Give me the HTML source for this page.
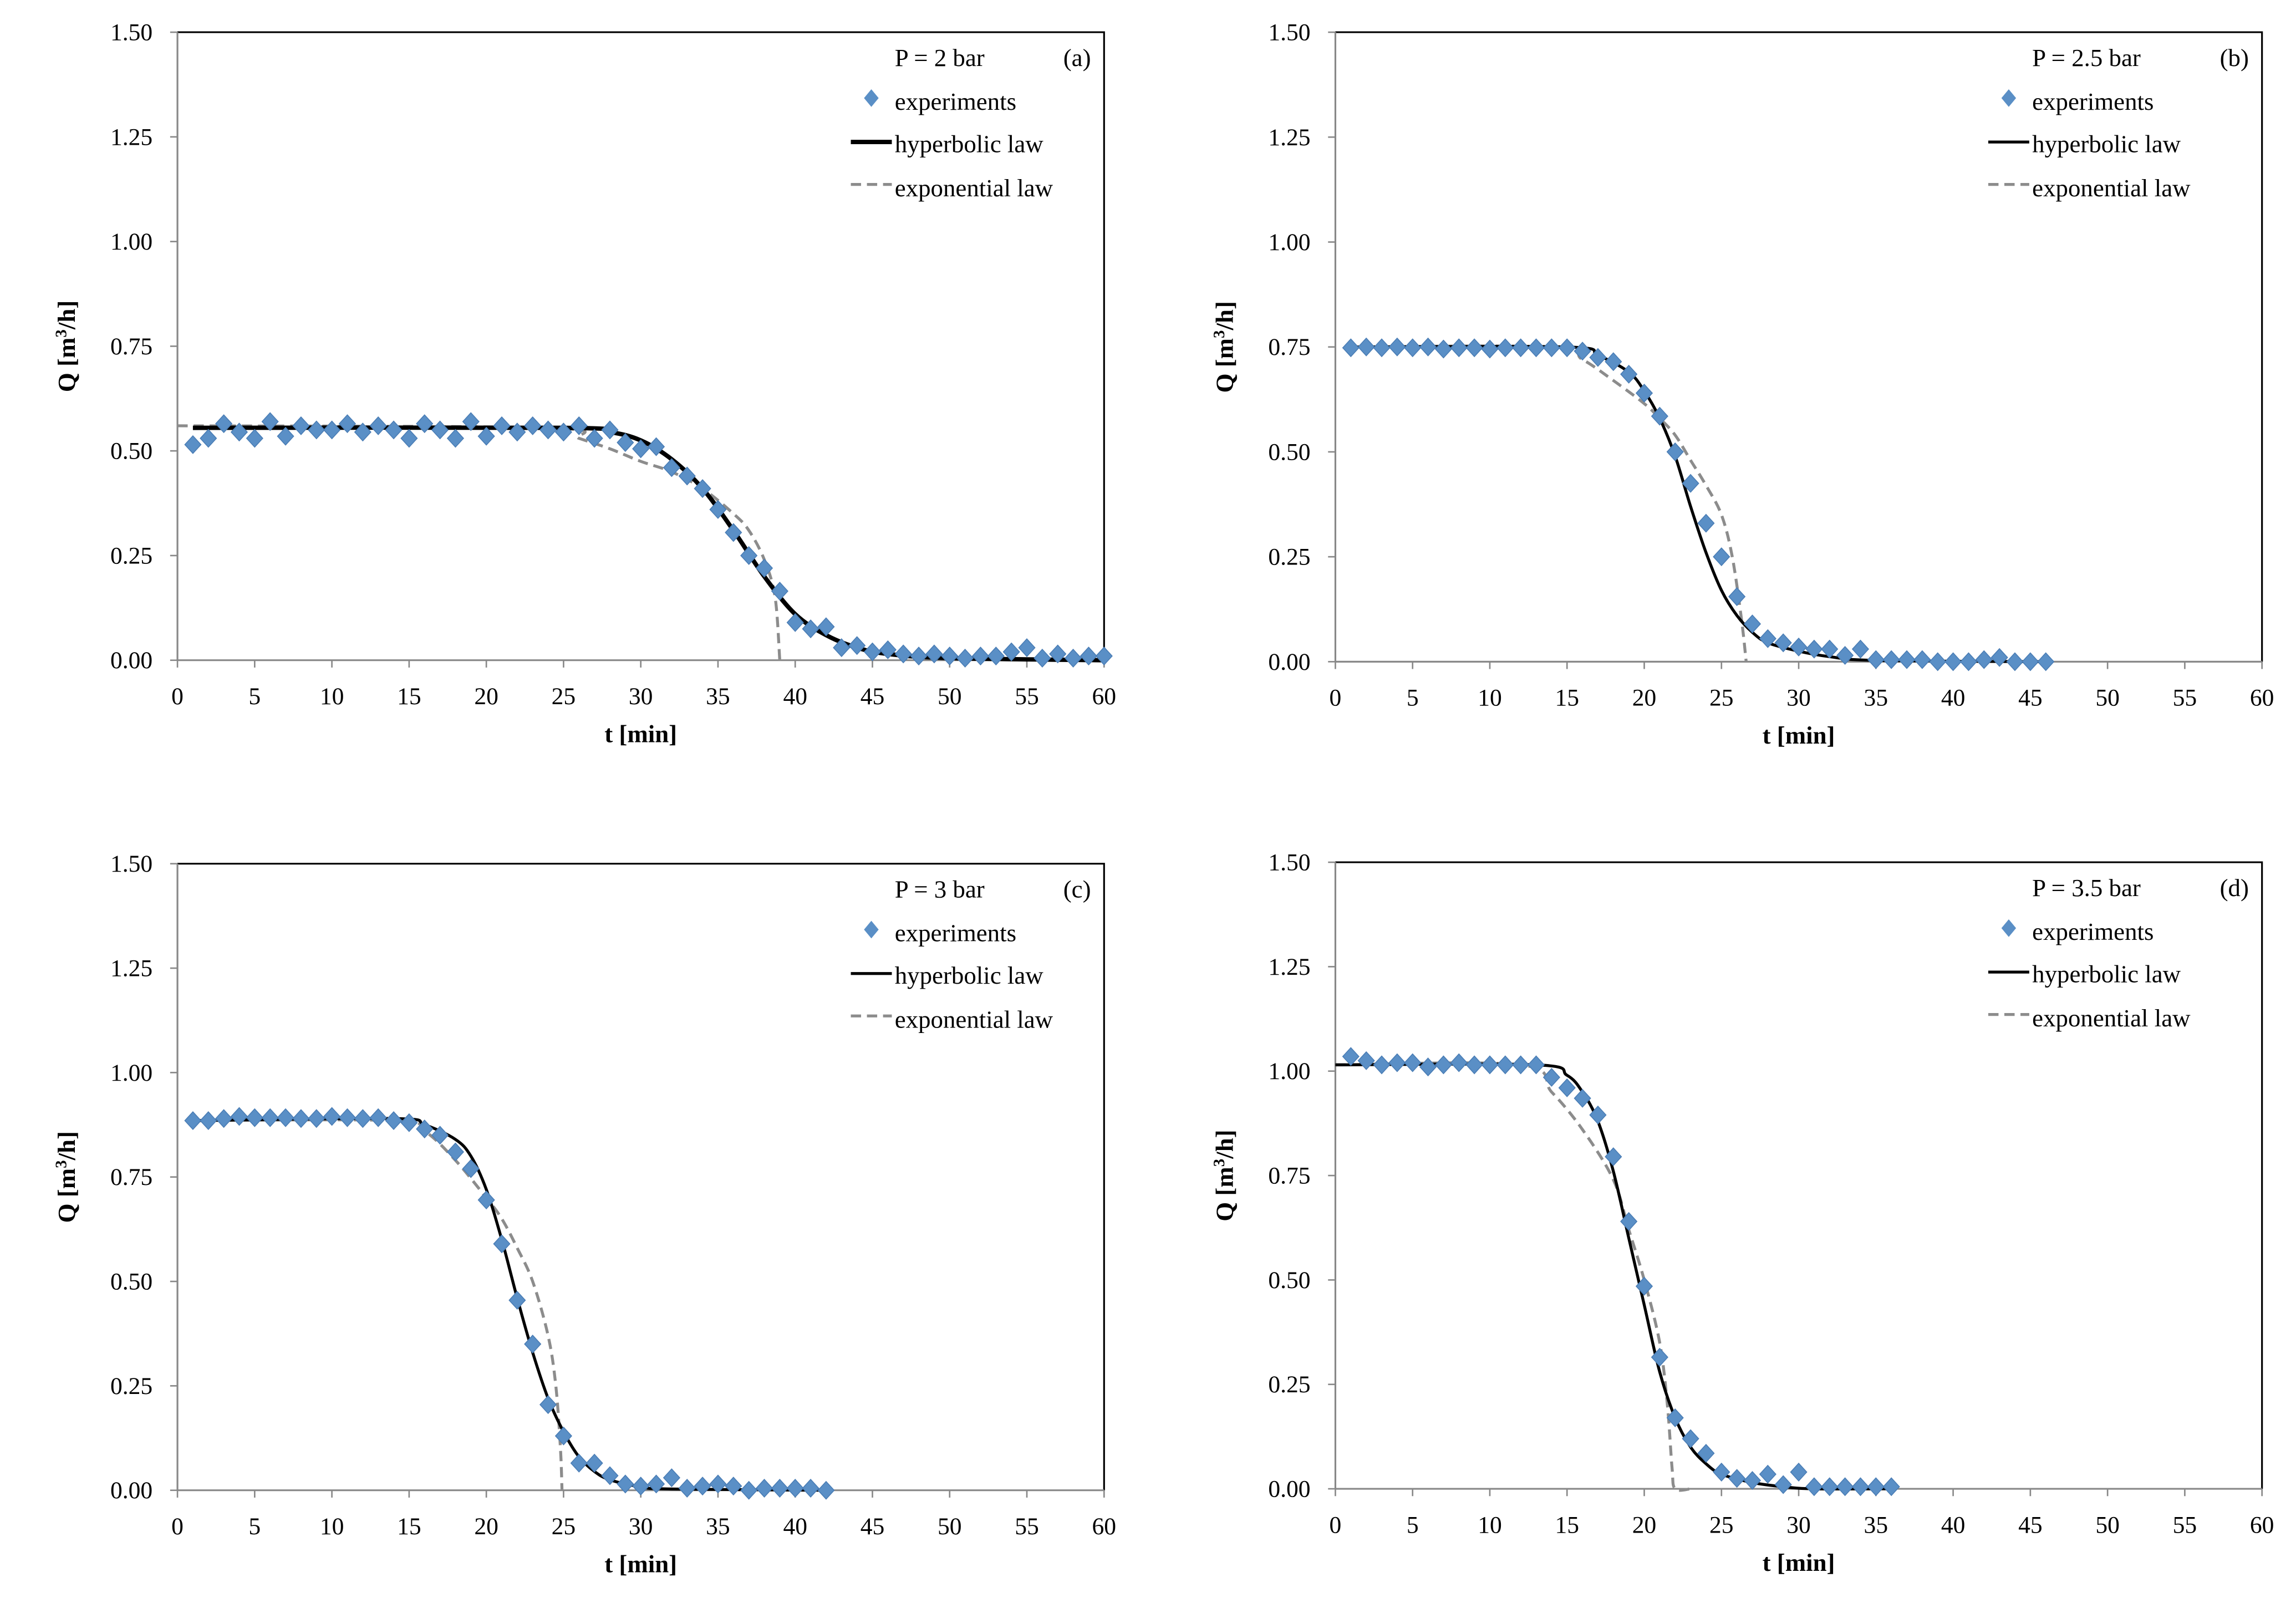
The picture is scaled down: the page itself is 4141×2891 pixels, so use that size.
<!DOCTYPE html>
<html><head><meta charset="utf-8"><style>
html,body{margin:0;padding:0;background:#fff;}
svg{display:block;}
text{font-family:"Liberation Serif",serif;fill:#000;}
</style></head><body>
<svg id="chart" width="4141" height="2891" viewBox="0 0 1568 1095" xmlns="http://www.w3.org/2000/svg"></svg>
<script>
// ---- data ----
const expA_t=[1,2,3,4,5,6,7,8,9,10,11,12,13,14,15,16,17,18,19,20,21,22,23,24,25,26,27,28,29,30,31,32,33,34,35,36,37,38,39,40,41,42,43,44,45,46,47,48,49,50,51,52,53,54,55,56,57,58,59,60];
const expA_q=[0.515,0.53,0.565,0.545,0.53,0.57,0.535,0.56,0.55,0.55,0.565,0.545,0.56,0.55,0.53,0.565,0.55,0.53,0.57,0.535,0.56,0.545,0.56,0.55,0.545,0.56,0.53,0.55,0.52,0.505,0.51,0.46,0.44,0.41,0.36,0.305,0.25,0.22,0.165,0.09,0.075,0.08,0.03,0.035,0.02,0.025,0.015,0.01,0.015,0.01,0.005,0.01,0.01,0.02,0.03,0.005,0.015,0.005,0.01,0.01];
const hypA_t=[1,25,28,30,32,34,36,38,40,42,44,46,50,60];
const hypA_q=[0.555,0.555,0.545,0.525,0.48,0.41,0.31,0.2,0.11,0.06,0.03,0.015,0.005,0];
const expoA_t=[0,24,26,28,30,32,34,36,37,38,38.7,39];
const expoA_q=[0.56,0.555,0.53,0.505,0.475,0.45,0.41,0.35,0.31,0.24,0.15,0];

const expB_t=[1,2,3,4,5,6,7,8,9,10,11,12,13,14,15,16,17,18,19,20,21,22,23,24,25,26,27,28,29,30,31,32,33,34,35,36,37,38,39,40,41,42,43,44,45,46];
const expB_q=[0.748,0.75,0.748,0.75,0.748,0.75,0.745,0.748,0.748,0.745,0.748,0.748,0.748,0.748,0.748,0.74,0.725,0.715,0.685,0.64,0.585,0.5,0.425,0.33,0.25,0.155,0.09,0.055,0.045,0.035,0.03,0.03,0.015,0.03,0.005,0.005,0.005,0.005,0,0,0,0.005,0.01,0,0,0];
const hypB_t=[1,15,17,19,20,21,22,23,24,25,26,27,28,30,32,35,46];
const hypB_q=[0.75,0.75,0.73,0.69,0.645,0.58,0.49,0.37,0.26,0.17,0.11,0.07,0.045,0.025,0.012,0.003,0];
const expoB_t=[1,14,16,18,20,21,22,23,24,25,25.7,26.3,26.6];
const expoB_q=[0.75,0.75,0.72,0.67,0.615,0.58,0.54,0.48,0.42,0.35,0.25,0.1,0];

const expC_t=[1,2,3,4,5,6,7,8,9,10,11,12,13,14,15,16,17,18,19,20,21,22,23,24,25,26,27,28,29,30,31,32,33,34,35,36,37,38,39,40,41,42];
const expC_q=[0.885,0.885,0.89,0.895,0.892,0.892,0.892,0.89,0.89,0.895,0.892,0.89,0.892,0.885,0.88,0.865,0.85,0.81,0.77,0.695,0.59,0.455,0.35,0.205,0.13,0.065,0.065,0.035,0.015,0.01,0.015,0.03,0.005,0.01,0.015,0.01,0,0.005,0.005,0.005,0.005,0];
const hypC_t=[1,14,16,18,19,20,21,22,23,24,25,26,27,28,30,32,42];
const hypC_q=[0.885,0.89,0.875,0.84,0.8,0.72,0.6,0.46,0.33,0.22,0.14,0.08,0.045,0.025,0.008,0.003,0];
const expoC_t=[1,14,16,18,20,21,22,23,24,24.5,24.8,24.9];
const expoC_q=[0.885,0.885,0.86,0.79,0.7,0.65,0.58,0.5,0.37,0.25,0.1,0];

const expD_t=[1,2,3,4,5,6,7,8,9,10,11,12,13,14,15,16,17,18,19,20,21,22,23,24,25,26,27,28,29,30,31,32,33,34,35,36];
const expD_q=[1.035,1.025,1.015,1.02,1.02,1.01,1.015,1.02,1.015,1.015,1.015,1.015,1.015,0.985,0.96,0.935,0.895,0.795,0.64,0.485,0.315,0.17,0.12,0.085,0.04,0.025,0.02,0.035,0.01,0.04,0.005,0.005,0.005,0.005,0.005,0.005];
const hypD_t=[0,13,15,16,17,18,19,20,21,22,23,24,25,27,29,31,36];
const hypD_q=[1.015,1.015,0.99,0.95,0.88,0.76,0.6,0.44,0.28,0.17,0.1,0.06,0.035,0.015,0.005,0,0];
const expoD_t=[0,12,14,16,18,19,20,21,21.5,21.8,22,23];
const expoD_q=[1.015,1.015,0.95,0.86,0.74,0.62,0.5,0.35,0.2,0.05,0,0];

const xTicks=[0,5,10,15,20,25,30,35,40,45,50,55,60];
const yTicks=[0,0.25,0.5,0.75,1.0,1.25,1.5];
const yTickLabels=["0.00","0.25","0.50","0.75","1.00","1.25","1.50"];

const panels=[
 {id:'a',x0:121,x1:754,yTop:22,yBot:451,lo:173,p:'P = 2 bar',lw:3,e:[expA_t,expA_q],h:[hypA_t,hypA_q],x:[expoA_t,expoA_q]},
 {id:'b',x0:912,x1:1545,yTop:22,yBot:452,lo:187,p:'P = 2.5 bar',lw:2,e:[expB_t,expB_q],h:[hypB_t,hypB_q],x:[expoB_t,expoB_q]},
 {id:'c',x0:121,x1:754,yTop:590,yBot:1018,lo:173,p:'P = 3 bar',lw:2,e:[expC_t,expC_q],h:[hypC_t,hypC_q],x:[expoC_t,expoC_q]},
 {id:'d',x0:912,x1:1545,yTop:589,yBot:1017,lo:187,p:'P = 3.5 bar',lw:2,e:[expD_t,expD_q],h:[hypD_t,hypD_q],x:[expoD_t,expoD_q]}
];

const NS='http://www.w3.org/2000/svg';
const svg=document.getElementById('chart');
function mk(tag,attrs,parent){const el=document.createElementNS(NS,tag);for(const k in attrs)el.setAttribute(k,attrs[k]);parent.appendChild(el);return el;}
function smooth(pts){
 let d='M'+pts[0][0].toFixed(2)+','+pts[0][1].toFixed(2);
 for(let i=0;i<pts.length-1;i++){
  const p0=pts[Math.max(0,i-1)],p1=pts[i],p2=pts[i+1],p3=pts[Math.min(pts.length-1,i+2)];
  const c1=[p1[0]+(p2[0]-p0[0])/6,p1[1]+(p2[1]-p0[1])/6];
  const c2=[p2[0]-(p3[0]-p1[0])/6,p2[1]-(p3[1]-p1[1])/6];
  d+=' C'+c1[0].toFixed(2)+','+c1[1].toFixed(2)+' '+c2[0].toFixed(2)+','+c2[1].toFixed(2)+' '+p2[0].toFixed(2)+','+p2[1].toFixed(2);
 }
 return d;
}

panels.forEach(P=>{
 const xs=t=>P.x0+(t/60)*(P.x1-P.x0);
 const ys=q=>P.yBot-(q/1.5)*(P.yBot-P.yTop);
 const g=mk('g',{},svg);
 
 
 const fr=mk('path',{d:`M${P.x0},${P.yTop} H${P.x1} V${P.yBot}`,fill:'none',stroke:'#000','stroke-width':1.2},g);
 
 
 const ya=mk('line',{x1:P.x0,y1:P.yTop,x2:P.x0,y2:P.yBot,stroke:'#888','stroke-width':1.2},g);
 
 
 const xa=mk('line',{x1:P.x0,y1:P.yBot,x2:P.x1,y2:P.yBot,stroke:'#888','stroke-width':1.2},g);
 
 
 yTicks.forEach((v,i)=>{
  const y=ys(v);
  mk('line',{x1:P.x0-5,y1:y,x2:P.x0,y2:y,stroke:'#888','stroke-width':1},g);
  const t=mk('text',{x:P.x0-17,y:y+5.5,'text-anchor':'end','font-size':16.5},g);
  t.textContent=yTickLabels[i];
  
  
 });
 xTicks.forEach(v=>{
  const x=xs(v);
  mk('line',{x1:x,y1:P.yBot,x2:x,y2:P.yBot+5,stroke:'#888','stroke-width':1},g);
  const t=mk('text',{x:x,y:P.yBot+30,'text-anchor':'middle','font-size':16.5},g);
  t.textContent=String(v);
  
  
 });
 const xt=mk('text',{x:(P.x0+P.x1)/2,y:P.yBot+56,'text-anchor':'middle','font-size':17,'font-weight':'bold'},g);
 xt.textContent='t [min]';
 
 
 const cy=(P.yTop+P.yBot)/2;
 const yt=mk('text',{x:0,y:0,'text-anchor':'middle','font-size':17,'font-weight':'bold',transform:`translate(${P.x0-70},${cy}) rotate(-90)`},g);
 yt.innerHTML='Q [m<tspan dy="-6" font-size="11">3</tspan><tspan dy="6">/h]</tspan>';
 
 
 const ep=P.x[0].map((t,i)=>[xs(t),ys(P.x[1][i])]);
 const el=mk('path',{d:smooth(ep),fill:'none',stroke:'#8c8c8c','stroke-width':2,'stroke-dasharray':'7,4'},g);
 
 
 const hp=P.h[0].map((t,i)=>[xs(t),ys(P.h[1][i])]);
 const hl=mk('path',{d:smooth(hp),fill:'none',stroke:'#000','stroke-width':P.lw},g);
 
 
 P.e[0].forEach((t,i)=>{
  const x=xs(t),y=ys(P.e[1][i]);
  const m=mk('path',{d:`M${x},${y-6} L${x+5.5},${y} L${x},${y+6} L${x-5.5},${y} Z`,fill:'#5a8fc6',stroke:'#4a7db5','stroke-width':0.6},g);
  
  
 });
 const lx=P.x1-P.lo, ly=P.yTop+18;
 const lg=mk('g',{},g);
 
 
 const pt=mk('text',{x:lx+30,y:ly+5,'font-size':17},lg); pt.textContent=P.p;
 
 
 const pl=mk('text',{x:P.x1-9,y:ly+5,'text-anchor':'end','font-size':17},lg); pl.textContent='('+P.id+')';
 
 
 const dx=lx+14,dy=ly+27;
 mk('path',{d:`M${dx},${dy-6} L${dx+5},${dy} L${dx},${dy+6} L${dx-5},${dy} Z`,fill:'#5a8fc6'},lg);
 const t1=mk('text',{x:lx+30,y:ly+35,'font-size':17},lg); t1.textContent='experiments';
 
 
 mk('line',{x1:lx,y1:ly+57,x2:lx+28,y2:ly+57,stroke:'#000','stroke-width':P.lw},lg);
 const t2=mk('text',{x:lx+30,y:ly+64,'font-size':17},lg); t2.textContent='hyperbolic law';
 
 
 mk('line',{x1:lx,y1:ly+86,x2:lx+28,y2:ly+86,stroke:'#8c8c8c','stroke-width':2,'stroke-dasharray':'7,4'},lg);
 const t3=mk('text',{x:lx+30,y:ly+94,'font-size':17},lg); t3.textContent='exponential law';
 
 
});
</script>
</body></html>
